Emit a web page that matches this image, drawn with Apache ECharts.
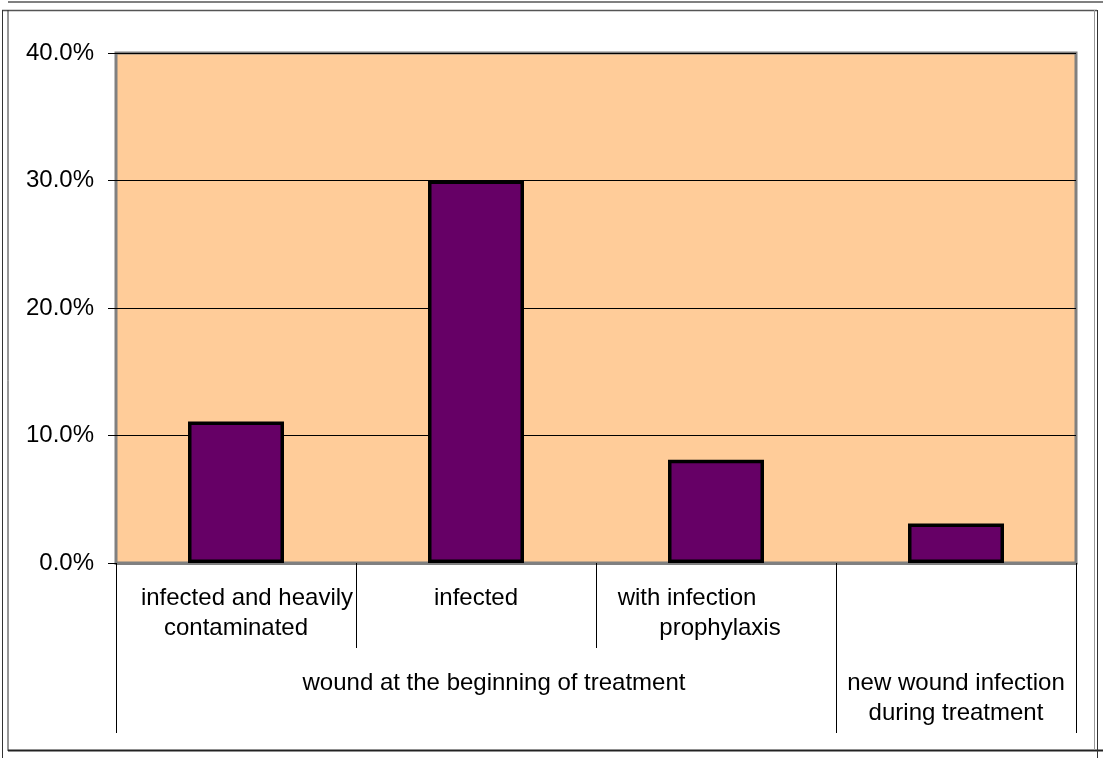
<!DOCTYPE html>
<html>
<head>
<meta charset="utf-8">
<script src="https://cdn.jsdelivr.net/npm/echarts@6/dist/echarts.min.js"></script>
<style>
html,body{margin:0;padding:0;background:#fff;}
#chart{width:1103px;height:758px;}
</style>
</head>
<body>
<div id="chart"></div>
<script>
// ---- data ----
const categories = ['infected and heavily\ncontaminated', 'infected', 'with infection\nprophylaxis', ''];
const values = [11.1, 30.0, 8.1, 3.1];
const groups = ['wound at the beginning of treatment', 'new wound infection\nduring treatment'];
const groupPositions = [1.5, 3.5];
const groupBoundaries = [0, 3, 4];
const yTicks = [0, 10, 20, 30, 40];

const FONT = "'Liberation Sans', Arial, sans-serif";
const chart = echarts.init(document.getElementById('chart'), null, {renderer: 'canvas'});

const option = {
  animation: false,
  backgroundColor: '#ffffff',
  textStyle: {fontFamily: FONT},
  grid: {
    left: 116, right: 27, top: 53, bottom: 195,
    show: true,
    backgroundColor: '#FFCC99',
    borderColor: '#808080',
    borderWidth: 3
  },
  xAxis: [
    {
      type: 'category',
      data: categories,
      position: 'bottom',
      axisLine: {show: true, lineStyle: {color: '#808080', width: 3}},
      axisTick: {show: true, length: 85, interval: 0, lineStyle: {color: '#000', width: 1}},
      axisLabel: {
        interval: 0, margin: 20, fontSize: 24, lineHeight: 30, color: '#000', fontFamily: FONT,
        formatter: function (v, i) {
          const lines = v.split('\n');
          if (i === 0) return '{a|' + lines[0] + '}\n{n|' + lines[1] + '}';
          if (i === 2) return '{b|' + lines[0] + '}\n{c|' + lines[1] + '}';
          return '{n|' + v + '}';
        },
        rich: {
          n: {fontSize: 24, lineHeight: 30, color: '#000', fontFamily: FONT},
          a: {fontSize: 24, lineHeight: 30, color: '#000', fontFamily: FONT, padding: [0, 0, 0, 22]},
          b: {fontSize: 24, lineHeight: 30, color: '#000', fontFamily: FONT, padding: [0, 58, 0, 0]},
          c: {fontSize: 24, lineHeight: 30, color: '#000', fontFamily: FONT, padding: [0, 0, 0, 8]}
        }
      },
      splitLine: {show: false}
    },
    {
      type: 'value',
      position: 'bottom',
      min: 0, max: 4,
      axisLine: {show: false},
      splitLine: {show: false},
      axisTick: {show: true, customValues: groupBoundaries, length: 170, lineStyle: {color: '#000', width: 1}},
      axisLabel: {
        show: true, customValues: groupPositions, margin: 105, fontSize: 24, lineHeight: 30, color: '#000', fontFamily: FONT,
        formatter: function (v) {
          const idx = groupPositions.indexOf(v);
          if (idx === 0) return '{g|' + groups[0] + '}';
          return '{n|' + groups[idx].split('\n').join('}\n{n|') + '}';
        },
        rich: {
          n: {fontSize: 24, lineHeight: 30, color: '#000', fontFamily: FONT},
          g: {fontSize: 24, lineHeight: 30, color: '#000', fontFamily: FONT, padding: [0, 0, 0, 36]}
        }
      }
    }
  ],
  yAxis: {
    type: 'value',
    min: 0, max: 40, interval: 10,
    axisLine: {show: false},
    axisTick: {show: true, length: 8, lineStyle: {color: '#000', width: 1}},
    axisLabel: {
      margin: 22, fontSize: 24, color: '#000', fontFamily: FONT,
      formatter: function (v) { return v.toFixed(1) + '%'; }
    },
    splitLine: {show: true, lineStyle: {color: '#000', width: 1}}
  },
  series: [{
    type: 'bar',
    xAxisIndex: 0,
    data: values,
    barWidth: 96,
    itemStyle: {color: '#660066', borderColor: '#000', borderWidth: 3.5},
    z: 3
  }],
  graphic: [
    {type: 'line', silent: true, shape: {x1: 8, y1: 2, x2: 1103, y2: 2}, style: {stroke: '#808080', lineWidth: 2}},
    {type: 'line', silent: true, shape: {x1: 2, y1: 10.5, x2: 1097, y2: 10.5}, style: {stroke: '#555', lineWidth: 1.5}},
    {type: 'line', silent: true, shape: {x1: 2.5, y1: 10, x2: 2.5, y2: 758}, style: {stroke: '#333', lineWidth: 1}},
    {type: 'line', silent: true, shape: {x1: 8, y1: 10, x2: 8, y2: 751}, style: {stroke: '#333', lineWidth: 1}},
    {type: 'line', silent: true, shape: {x1: 8, y1: 750.5, x2: 1103, y2: 750.5}, style: {stroke: '#222', lineWidth: 2}},
    {type: 'line', silent: true, shape: {x1: 1097.5, y1: 10, x2: 1097.5, y2: 758}, style: {stroke: '#333', lineWidth: 1}},
    {type: 'line', silent: true, shape: {x1: 1094.5, y1: 10, x2: 1094.5, y2: 750}, style: {stroke: '#999', lineWidth: 1}}
  ]
};
chart.setOption(option);
</script>
</body>
</html>
